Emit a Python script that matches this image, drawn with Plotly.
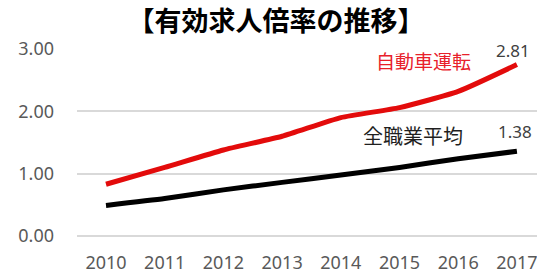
import plotly.graph_objects as go

years = [2010, 2011, 2012, 2013, 2014, 2015, 2016, 2017]
driver = [0.83, 1.10, 1.38, 1.60, 1.90, 2.06, 2.32, 2.75]
all_jobs = [0.49, 0.60, 0.74, 0.86, 0.98, 1.10, 1.24, 1.36]
driver_name = "自動車運転"
all_name = "全職業平均"
end_labels = ["2.81", "1.38"]
y_ticks = [0, 1, 2, 3]
y_tick_text = ["0.00", "1.00", "2.00", "3.00"]
title = "【有効求人倍率の推移】"

fig = go.Figure()
fig.add_trace(go.Scatter(x=years, y=driver, mode="lines",
                         line=dict(color="#e30b0b", width=5, shape="spline", smoothing=0.5),
                         showlegend=False, cliponaxis=False))
fig.add_trace(go.Scatter(x=years, y=all_jobs, mode="lines",
                         line=dict(color="#000000", width=5, shape="spline", smoothing=0.5),
                         showlegend=False, cliponaxis=False))

num_font = "Noto Sans"
cjk = "Noto Sans CJK JP"

fig.add_annotation(x=2015.40, y=2.82, text=driver_name, showarrow=False,
                   font=dict(family=cjk, size=19, color="#e8202a"))
fig.add_annotation(x=2015.23, y=1.62, text=all_name, showarrow=False,
                   font=dict(family=cjk, size=20, color="#1f1f1f"))
fig.add_annotation(x=2016.93, y=2.98, text=end_labels[0], showarrow=False,
                   font=dict(family=num_font, size=17, color="#404040"))
fig.add_annotation(x=2016.97, y=1.67, text=end_labels[1], showarrow=False,
                   font=dict(family=num_font, size=17, color="#404040"))

fig.update_layout(
    width=537, height=274,
    margin=dict(l=77, r=0, t=49, b=38),
    paper_bgcolor="white", plot_bgcolor="white",
    title=dict(text="<b>" + title + "</b>", x=0.514, xanchor="center",
               y=1 - 22 / 274, yanchor="middle",
               font=dict(family=cjk, size=27, color="#000000")),
    xaxis=dict(range=[2009.506, 2017.342], tickmode="array", tickvals=years,
               ticktext=[str(y) for y in years], showgrid=False, zeroline=False,
               showline=False, ticks="", ticklabelstandoff=14,
               ticklabeloverflow="allow",
               tickfont=dict(family=num_font, size=18, color="#595959")),
    yaxis=dict(range=[0, 3], tickmode="array", tickvals=y_ticks, ticktext=y_tick_text,
               showgrid=True, gridcolor="#d9d9d9", gridwidth=1.5,
               zeroline=True, zerolinecolor="#d9d9d9", zerolinewidth=1.5,
               showline=False, ticks="", ticklabelstandoff=22,
               tickfont=dict(family=num_font, size=18, color="#595959")),
)

fig.write_html("out.html", config={"displayModeBar": False},
               post_script="document.body.style.margin='0';document.body.style.overflow='hidden';")
